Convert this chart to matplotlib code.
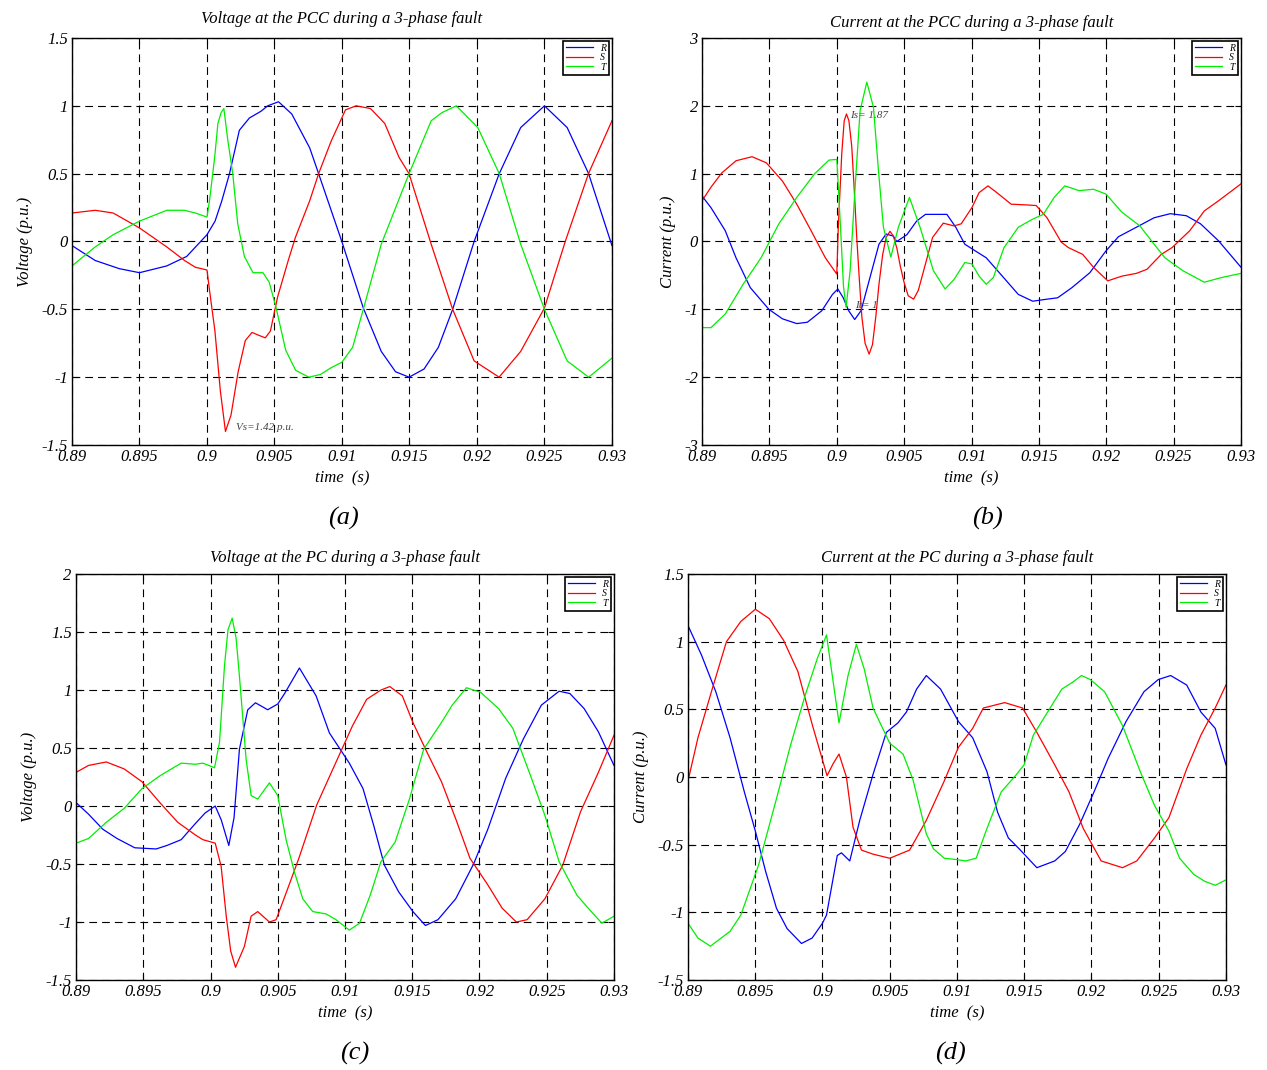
import matplotlib
matplotlib.use("Agg")
import matplotlib.pyplot as plt
from matplotlib.ticker import MultipleLocator, FormatStrFormatter

plt.rcParams["font.family"] = ["Liberation Serif", "DejaVu Serif"]
plt.rcParams["font.style"] = "italic"
plt.rcParams["axes.unicode_minus"] = False

# (a) Voltage at the PCC
t_a_r = [0.89000, 0.89172, 0.89350, 0.89500, 0.89702, 0.89850, 0.90000, 0.90060, 0.90110, 0.90167,
         0.90240, 0.90314, 0.90400, 0.90450, 0.90530, 0.90628, 0.90761, 0.90827, 0.90999, 0.91158,
         0.91291, 0.91397, 0.91497, 0.91608, 0.91714, 0.91820, 0.91979, 0.92165, 0.92324, 0.92500,
         0.92668, 0.92827, 0.93000]
v_a_r = [-0.03, -0.14, -0.20, -0.23, -0.18, -0.11, 0.05, 0.15, 0.30, 0.50,
         0.82, 0.91, 0.96, 1.00, 1.03, 0.94, 0.69, 0.50, 0.00, -0.49,
         -0.81, -0.96, -1.00, -0.94, -0.78, -0.50, 0.00, 0.50, 0.84, 1.00,
         0.84, 0.50, -0.03]
t_a_s = [0.89000, 0.89172, 0.89305, 0.89500, 0.89702, 0.89834, 0.89914, 0.90000, 0.90019, 0.90059,
         0.90099, 0.90137, 0.90178, 0.90231, 0.90284, 0.90334, 0.90380, 0.90432, 0.90470, 0.90523,
         0.90602, 0.90655, 0.90761, 0.90827, 0.90920, 0.91026, 0.91105, 0.91211, 0.91317, 0.91423,
         0.91497, 0.91661, 0.91820, 0.91979, 0.92164, 0.92324, 0.92500, 0.92654, 0.92826, 0.93000]
v_a_s = [0.21, 0.23, 0.21, 0.10, -0.04, -0.14, -0.19, -0.21, -0.36, -0.66,
         -1.10, -1.40, -1.28, -0.96, -0.73, -0.67, -0.69, -0.71, -0.66, -0.41,
         -0.14, 0.03, 0.30, 0.50, 0.74, 0.97, 1.00, 0.98, 0.87, 0.62,
         0.50, -0.02, -0.50, -0.88, -1.00, -0.81, -0.49, 0.00, 0.50, 0.89]
t_a_t = [0.89000, 0.89172, 0.89305, 0.89500, 0.89702, 0.89834, 0.89914, 0.90000, 0.90020, 0.90057,
         0.90081, 0.90105, 0.90125, 0.90154, 0.90191, 0.90228, 0.90277, 0.90341, 0.90415, 0.90461,
         0.90510, 0.90583, 0.90657, 0.90755, 0.90841, 0.90920, 0.90999, 0.91079, 0.91158, 0.91291,
         0.91497, 0.91661, 0.91741, 0.91847, 0.92006, 0.92165, 0.92324, 0.92500, 0.92668, 0.92827,
         0.93000]
v_a_t = [-0.18, -0.04, 0.05, 0.15, 0.23, 0.23, 0.21, 0.18, 0.31, 0.62,
         0.87, 0.95, 0.98, 0.75, 0.50, 0.13, -0.11, -0.23, -0.23, -0.30,
         -0.48, -0.80, -0.95, -1.00, -0.98, -0.93, -0.89, -0.78, -0.50, -0.02,
         0.50, 0.89, 0.95, 1.00, 0.84, 0.50, -0.02, -0.50, -0.88, -1.00,
         -0.86]

# (b) Current at the PCC
t_b_r = [0.89000, 0.89066, 0.89172, 0.89252, 0.89358, 0.89496, 0.89597, 0.89703, 0.89782, 0.89889,
         0.89968, 0.90008, 0.90048, 0.90088, 0.90133, 0.90180, 0.90260, 0.90313, 0.90366, 0.90419,
         0.90445, 0.90520, 0.90592, 0.90658, 0.90764, 0.90817, 0.90883, 0.90950, 0.91029, 0.91109,
         0.91215, 0.91347, 0.91454, 0.91560, 0.91639, 0.91745, 0.91878, 0.91997, 0.92090, 0.92223,
         0.92355, 0.92475, 0.92594, 0.92700, 0.92833, 0.93000]
v_b_r = [0.67, 0.50, 0.16, -0.24, -0.68, -1.00, -1.14, -1.21, -1.19, -1.02,
         -0.78, -0.70, -0.83, -1.02, -1.15, -1.02, -0.43, -0.04, 0.11, 0.08,
         0.00, 0.10, 0.30, 0.40, 0.40, 0.40, 0.21, -0.04, -0.14, -0.24,
         -0.48, -0.78, -0.88, -0.85, -0.83, -0.68, -0.46, -0.14, 0.07, 0.21,
         0.35, 0.41, 0.38, 0.26, 0.01, -0.38]
t_b_s = [0.89000, 0.89066, 0.89146, 0.89252, 0.89371, 0.89477, 0.89597, 0.89703, 0.89809, 0.89915,
         0.90000, 0.90012, 0.90037, 0.90055, 0.90072, 0.90090, 0.90111, 0.90130, 0.90148, 0.90167,
         0.90186, 0.90210, 0.90240, 0.90265, 0.90290, 0.90313, 0.90340, 0.90366, 0.90395, 0.90420,
         0.90446, 0.90470, 0.90499, 0.90530, 0.90570, 0.90605, 0.90631, 0.90711, 0.90790, 0.90870,
         0.90923, 0.91003, 0.91056, 0.91122, 0.91188, 0.91294, 0.91401, 0.91480, 0.91560, 0.91666,
         0.91719, 0.91825, 0.91905, 0.92011, 0.92117, 0.92223, 0.92302, 0.92408, 0.92488, 0.92620,
         0.92727, 0.92833, 0.93000]
v_b_s = [0.60, 0.80, 1.01, 1.19, 1.25, 1.16, 0.89, 0.55, 0.16, -0.24,
         -0.48, 0.25, 1.30, 1.78, 1.88, 1.78, 1.40, 0.75, 0.06, -0.55,
         -1.11, -1.50, -1.66, -1.52, -1.10, -0.63, -0.20, 0.06, 0.15, 0.08,
         -0.10, -0.35, -0.60, -0.80, -0.85, -0.72, -0.53, 0.06, 0.27, 0.23,
         0.26, 0.50, 0.72, 0.82, 0.72, 0.55, 0.54, 0.53, 0.35, -0.01,
         -0.09, -0.19, -0.38, -0.58, -0.51, -0.47, -0.41, -0.19, -0.09, 0.16,
         0.45, 0.60, 0.85]
t_b_t = [0.89000, 0.89066, 0.89172, 0.89305, 0.89438, 0.89570, 0.89703, 0.89836, 0.89942, 0.90000,
         0.90025, 0.90050, 0.90069, 0.90099, 0.90136, 0.90173, 0.90223, 0.90272, 0.90309, 0.90346,
         0.90401, 0.90457, 0.90539, 0.90618, 0.90717, 0.90804, 0.90870, 0.90950, 0.91003, 0.91056,
         0.91109, 0.91162, 0.91241, 0.91347, 0.91454, 0.91533, 0.91613, 0.91692, 0.91798, 0.91905,
         0.91997, 0.92117, 0.92249, 0.92355, 0.92435, 0.92568, 0.92727, 0.92859, 0.93000]
v_b_t = [-1.27, -1.27, -1.07, -0.63, -0.24, 0.26, 0.65, 1.00, 1.20, 1.21,
         0.31, -0.67, -0.97, -0.43, 0.80, 1.93, 2.35, 1.98, 1.05, 0.21,
         -0.23, 0.21, 0.65, 0.21, -0.43, -0.70, -0.56, -0.31, -0.33, -0.51,
         -0.63, -0.53, -0.09, 0.21, 0.33, 0.40, 0.65, 0.82, 0.75, 0.77,
         0.70, 0.43, 0.23, -0.04, -0.24, -0.43, -0.60, -0.53, -0.47]

# (c) Voltage at the PC
t_c_r = [0.89000, 0.89093, 0.89199, 0.89305, 0.89437, 0.89596, 0.89676, 0.89782, 0.89888, 0.89960,
         0.90035, 0.90080, 0.90136, 0.90175, 0.90215, 0.90277, 0.90334, 0.90380, 0.90425, 0.90500,
         0.90551, 0.90661, 0.90785, 0.90884, 0.90958, 0.91032, 0.91134, 0.91214, 0.91293, 0.91399,
         0.91505, 0.91598, 0.91691, 0.91823, 0.91956, 0.92062, 0.92195, 0.92327, 0.92460, 0.92592,
         0.92672, 0.92778, 0.92884, 0.93000]
v_c_r = [0.03, -0.07, -0.20, -0.28, -0.36, -0.37, -0.34, -0.29, -0.15, -0.06,
         0.00, -0.12, -0.34, -0.10, 0.49, 0.83, 0.89, 0.86, 0.83, 0.88,
         0.97, 1.19, 0.95, 0.63, 0.50, 0.37, 0.15, -0.17, -0.51, -0.74,
         -0.91, -1.03, -0.98, -0.80, -0.50, -0.20, 0.24, 0.58, 0.87, 0.99,
         0.97, 0.84, 0.64, 0.35]
t_c_s = [0.89000, 0.89093, 0.89225, 0.89358, 0.89490, 0.89623, 0.89756, 0.89888, 0.89943, 0.90035,
         0.90079, 0.90117, 0.90150, 0.90186, 0.90252, 0.90302, 0.90351, 0.90438, 0.90488, 0.90562,
         0.90657, 0.90790, 0.90922, 0.91055, 0.91161, 0.91267, 0.91333, 0.91426, 0.91505, 0.91611,
         0.91717, 0.91823, 0.91929, 0.92062, 0.92168, 0.92274, 0.92354, 0.92486, 0.92619, 0.92751,
         0.92884, 0.93000]
v_c_s = [0.29, 0.35, 0.38, 0.32, 0.21, 0.03, -0.14, -0.25, -0.29, -0.32,
         -0.52, -0.95, -1.25, -1.39, -1.21, -0.95, -0.91, -1.00, -0.98, -0.75,
         -0.45, 0.01, 0.35, 0.69, 0.92, 1.00, 1.03, 0.95, 0.72, 0.46,
         0.21, -0.11, -0.45, -0.68, -0.88, -1.00, -0.98, -0.80, -0.51, -0.05,
         0.29, 0.61]
t_c_t = [0.89000, 0.89093, 0.89225, 0.89358, 0.89490, 0.89623, 0.89782, 0.89888, 0.89943, 0.90030,
         0.90067, 0.90104, 0.90130, 0.90161, 0.90190, 0.90215, 0.90265, 0.90302, 0.90351, 0.90438,
         0.90500, 0.90562, 0.90624, 0.90686, 0.90760, 0.90859, 0.90933, 0.91032, 0.91108, 0.91187,
         0.91267, 0.91373, 0.91479, 0.91585, 0.91717, 0.91797, 0.91903, 0.92009, 0.92142, 0.92248,
         0.92380, 0.92486, 0.92592, 0.92725, 0.92831, 0.92910, 0.93000]
v_c_t = [-0.32, -0.28, -0.14, -0.02, 0.15, 0.26, 0.37, 0.36, 0.37, 0.33,
         0.55, 1.21, 1.52, 1.62, 1.45, 1.12, 0.40, 0.09, 0.06, 0.20,
         0.09, -0.29, -0.57, -0.80, -0.91, -0.93, -0.98, -1.07, -1.01, -0.77,
         -0.48, -0.31, 0.06, 0.49, 0.72, 0.87, 1.02, 0.98, 0.84, 0.67,
         0.26, -0.08, -0.48, -0.77, -0.91, -1.01, -0.95]

# (d) Current at the PC
t_d_r = [0.89000, 0.89101, 0.89207, 0.89313, 0.89419, 0.89501, 0.89578, 0.89658, 0.89737, 0.89844,
         0.89923, 0.90000, 0.90030, 0.90079, 0.90110, 0.90141, 0.90203, 0.90277, 0.90376, 0.90475,
         0.90561, 0.90624, 0.90700, 0.90772, 0.90878, 0.91011, 0.91117, 0.91223, 0.91302, 0.91382,
         0.91462, 0.91594, 0.91727, 0.91806, 0.91912, 0.92019, 0.92125, 0.92257, 0.92390, 0.92496,
         0.92589, 0.92708, 0.92814, 0.92920, 0.93000]
v_d_r = [1.12, 0.90, 0.63, 0.29, -0.11, -0.40, -0.70, -0.97, -1.12, -1.23,
         -1.19, -1.08, -1.02, -0.75, -0.58, -0.56, -0.62, -0.32, 0.02, 0.33,
         0.40, 0.48, 0.65, 0.75, 0.65, 0.41, 0.29, 0.04, -0.26, -0.45,
         -0.53, -0.67, -0.62, -0.55, -0.35, -0.11, 0.14, 0.41, 0.63, 0.72,
         0.75, 0.68, 0.48, 0.36, 0.09]
t_d_s = [0.89000, 0.89074, 0.89180, 0.89286, 0.89393, 0.89501, 0.89605, 0.89711, 0.89817, 0.89926,
         0.90034, 0.90080, 0.90123, 0.90178, 0.90227, 0.90290, 0.90376, 0.90500, 0.90648, 0.90772,
         0.90905, 0.91011, 0.91117, 0.91196, 0.91355, 0.91488, 0.91594, 0.91727, 0.91833, 0.91939,
         0.92072, 0.92231, 0.92337, 0.92469, 0.92576, 0.92708, 0.92814, 0.92920, 0.93000]
v_d_s = [-0.03, 0.29, 0.65, 1.00, 1.15, 1.24, 1.17, 1.01, 0.78, 0.38,
         0.01, 0.10, 0.17, 0.00, -0.37, -0.54, -0.57, -0.60, -0.54, -0.32,
         -0.03, 0.22, 0.36, 0.51, 0.55, 0.51, 0.33, 0.09, -0.11, -0.38,
         -0.62, -0.67, -0.62, -0.45, -0.30, 0.06, 0.31, 0.51, 0.68]
t_d_t = [0.89000, 0.89074, 0.89167, 0.89313, 0.89393, 0.89525, 0.89658, 0.89764, 0.89870, 0.89963,
         0.90030, 0.90080, 0.90123, 0.90190, 0.90252, 0.90310, 0.90376, 0.90500, 0.90599, 0.90673,
         0.90772, 0.90825, 0.90905, 0.90997, 0.91064, 0.91143, 0.91223, 0.91329, 0.91435, 0.91499,
         0.91568, 0.91674, 0.91780, 0.91859, 0.91926, 0.91992, 0.92098, 0.92231, 0.92363, 0.92469,
         0.92576, 0.92655, 0.92761, 0.92841, 0.92920, 0.93000]
v_d_t = [-1.08, -1.19, -1.25, -1.14, -1.02, -0.65, -0.16, 0.24, 0.60, 0.88,
         1.05, 0.70, 0.40, 0.75, 0.98, 0.80, 0.51, 0.25, 0.17, -0.02,
         -0.42, -0.53, -0.60, -0.61, -0.62, -0.60, -0.38, -0.11, 0.01, 0.09,
         0.31, 0.48, 0.65, 0.70, 0.75, 0.72, 0.63, 0.38, 0.04, -0.21,
         -0.40, -0.60, -0.72, -0.77, -0.80, -0.76]

phases = ["R", "S", "T"]
colors = ["#0000ff", "#ff0000", "#00ee00"]

panels = [
    dict(title="Voltage at the PCC during a 3-phase fault", ylabel="Voltage (p.u.)", tag="(a)",
         data=[(t_a_r, v_a_r), (t_a_s, v_a_s), (t_a_t, v_a_t)], ylim=(-1.5, 1.5), ystep=0.5,
         pos=[0.0568, 0.5841, 0.4262, 0.3804], tagx=0.271, tpad=11),
    dict(title="Current at the PCC during a 3-phase fault", ylabel="Current (p.u.)", tag="(b)",
         data=[(t_b_r, v_b_r), (t_b_s, v_b_s), (t_b_t, v_b_t)], ylim=(-3, 3), ystep=1,
         pos=[0.5541, 0.5841, 0.4254, 0.3804], tagx=0.779, tpad=8),
    dict(title="Voltage at the PC during a 3-phase fault", ylabel="Voltage (p.u.)", tag="(c)",
         data=[(t_c_r, v_c_r), (t_c_s, v_c_s), (t_c_t, v_c_t)], ylim=(-1.5, 2), ystep=0.5,
         pos=[0.0600, 0.0841, 0.4246, 0.3794], tagx=0.280, tpad=9),
    dict(title="Current at the PC during a 3-phase fault", ylabel="Current (p.u.)", tag="(d)",
         data=[(t_d_r, v_d_r), (t_d_s, v_d_s), (t_d_t, v_d_t)], ylim=(-1.5, 1.5), ystep=0.5,
         pos=[0.5430, 0.0841, 0.4246, 0.3794], tagx=0.750, tpad=9),
]

fig = plt.figure(figsize=(12.67, 10.70), dpi=100)

axes = []
for p in panels:
    ax = fig.add_axes(p["pos"])
    for (t, v), name, c in zip(p["data"], phases, colors):
        ax.plot(t, v, color=c, lw=0.9, label=name)
    ax.set_xlim(0.89, 0.93)
    ax.set_ylim(*p["ylim"])
    ax.xaxis.set_major_locator(MultipleLocator(0.005))
    ax.yaxis.set_major_locator(MultipleLocator(p["ystep"]))
    ax.xaxis.set_major_formatter(FormatStrFormatter("%g"))
    ax.yaxis.set_major_formatter(FormatStrFormatter("%g"))
    ax.grid(True, color="black", lw=0.8, linestyle=(0, (7, 4.5)))
    ax.tick_params(direction="in", length=4, top=True, right=True, labelsize=12, pad=3)
    for s in ax.spines.values():
        s.set_linewidth(1.0)
    ax.set_title(p["title"], fontsize=12, pad=p["tpad"])
    ax.set_xlabel("time  (s)", fontsize=12, labelpad=4)
    ax.set_ylabel(p["ylabel"], fontsize=12, labelpad=6)
    leg = ax.legend(loc="upper right", fontsize=7, handlelength=2.8, handletextpad=0.7,
                    borderpad=0.3, labelspacing=0.05, borderaxespad=0.3, fancybox=False,
                    framealpha=1, edgecolor="black")
    leg.get_frame().set_linewidth(1.2)
    # subplot tag below each panel
    fig.text(p["tagx"], p["pos"][1] - 0.069, p["tag"], fontsize=19, ha="center", va="center")
    axes.append(ax)

# peak value notes
axes[0].text(0.90215, -1.37, "Vs=1.42 p.u.", fontsize=8, color="#444444", va="center")
axes[1].text(0.90098, 1.86, "Is= 1.87", fontsize=8, color="#444444", va="center")
axes[1].text(0.90135, -0.95, "It= 1", fontsize=8, color="#444444", va="center")

fig.savefig("out.png", dpi=100)
